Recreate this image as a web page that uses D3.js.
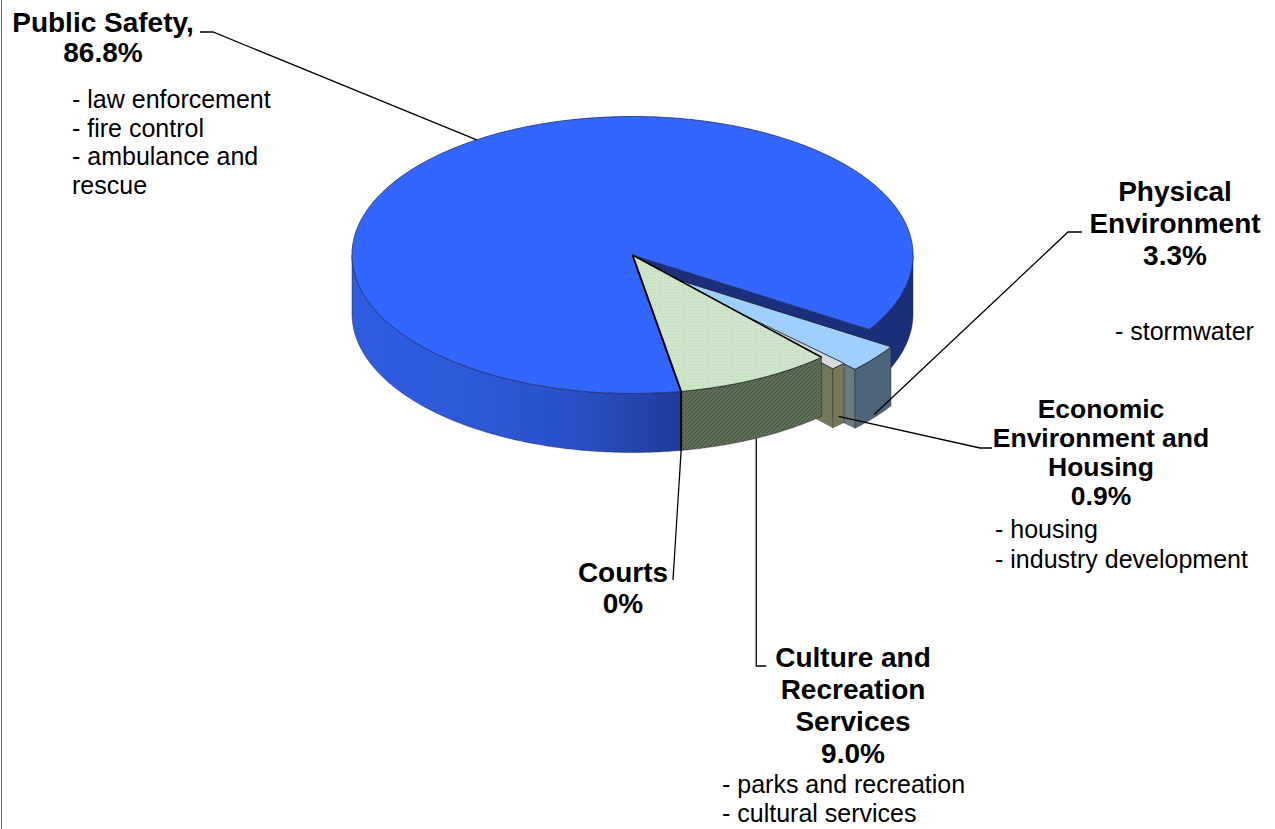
<!DOCTYPE html>
<html>
<head>
<meta charset="utf-8">
<script src="https://cdn.jsdelivr.net/npm/d3@7"></script>
<style>
  body { margin: 0; background: #fff; }
  svg { display: block; }
</style>
</head>
<body>
<svg id="chart" width="1275" height="829"></svg>
<script>
// ---- data ----
const categories = ["Physical Environment", "Economic Environment and Housing", "Culture and Recreation Services", "Courts", "Public Safety"];
const shares = [3.3, 0.9, 9.0, 0, 86.8];
const nameLines = [["Physical", "Environment"], ["Economic", "Environment and", "Housing"], ["Culture and", "Recreation", "Services"], ["Courts"], ["Public Safety,"]];
const detailLines = [["- stormwater"], ["- housing", "- industry development"], ["- parks and recreation", "- cultural services"], [], ["- law enforcement", "- fire control", "- ambulance and", "rescue"]];

// ---- geometry & styles ----
const cx = 632.5, cy = 255, rx = 280.5, ry = 138.5, depth = 59;
const startDeg = 32.5;                 // screen angle where the first slice begins
const explode = [28, 16, 0, 0, 0];
const endFaceFrom = [0.7, 0.7, 1, 1, 0]; // radial end faces drawn from this fraction of the radius outward
const topFill = ["#9fcfff", "#d3dbde", "url(#cultTop)", "#cfe8cc", "#3366ff"];
const wallFill = ["#4e6479", "#77775a", "url(#cultWall)", "#5f7058", "url(#psWall)"];
const endFill = ["#6d797e", "#77775a", null, null, "#1b2f7c"];

const svg = d3.select("#chart");
const defs = svg.append("defs");

const g1 = defs.append("linearGradient").attr("id", "psWall")
  .attr("gradientUnits", "userSpaceOnUse").attr("x1", 352).attr("x2", 913).attr("y1", 0).attr("y2", 0);
[[0, "#2f5ce2"], [0.2, "#2d59da"], [0.4, "#2950c6"], [0.58, "#1f3d9a"], [0.85, "#1c3283"], [1, "#1a2d78"]]
  .forEach(([o, c]) => g1.append("stop").attr("offset", o).attr("stop-color", c));

const pw = defs.append("pattern").attr("id", "cultWall").attr("patternUnits", "userSpaceOnUse")
  .attr("width", 4).attr("height", 4);
pw.append("rect").attr("width", 4).attr("height", 4).attr("fill", "#5e6f57");
pw.append("path").attr("d", "M-1,1 L1,-1 M0,4 L4,0 M3,5 L5,3").attr("stroke", "#46553f").attr("stroke-width", 1);

const pt = defs.append("pattern").attr("id", "cultTop").attr("patternUnits", "userSpaceOnUse")
  .attr("width", 3).attr("height", 3);
pt.append("rect").attr("width", 3).attr("height", 3).attr("fill", "#cde6ca");
pt.append("rect").attr("x", 1).attr("y", 1).attr("width", 1).attr("height", 1).attr("fill", "#bcd7b8");

// ---- layout from d3.pie ----
const rad = Math.PI / 180;
const pie = d3.pie().sort(null).value(d => d)
  .startAngle((startDeg + 90) * rad).endAngle((startDeg + 450) * rad);
const arcs = pie(shares);
const scr = a => a - Math.PI / 2;      // pie angle -> screen angle (0 = right, clockwise)

function offsetOf(i) {
  const d = arcs[i];
  const b = scr((d.startAngle + d.endAngle) / 2);
  return [explode[i] * Math.cos(b), explode[i] * Math.sin(b)];
}
function rim(a, off, dz, f) {
  const k = f === undefined ? 1 : f;
  return [cx + off[0] + k * rx * Math.cos(a), cy + off[1] + k * ry * Math.sin(a) + (dz || 0)];
}
function arcPts(a0, a1, off, dz) {
  const n = Math.max(2, Math.ceil(Math.abs(a1 - a0) / 0.01));
  return d3.range(n + 1).map(k => rim(a0 + (a1 - a0) * k / n, off, dz));
}
const line = d3.line();

function frontRanges(s, e) {
  const out = [];
  for (let k = -2; k <= 2; k++) {
    const lo = Math.max(s, 2 * Math.PI * k), hi = Math.min(e, 2 * Math.PI * k + Math.PI);
    if (hi > lo) out.push([lo, hi]);
  }
  return out;
}

const pieG = svg.append("g");
// paint back-to-front: the big slice first, then the small ones toward the viewer
const order = [4, 0, 1, 2];
order.forEach(i => {
  const d = arcs[i];
  if (d.value === 0) return;
  const s = scr(d.startAngle), e = scr(d.endAngle);
  const off = offsetOf(i);
  const c = [cx + off[0], cy + off[1]];
  const g = pieG.append("g");

  // radial face at the clockwise end of the slice
  if (endFill[i]) {
    const r = rim(e, off);
    const inner = rim(e, off, 0, endFaceFrom[i]);
    g.append("path")
      .attr("d", line([inner, r, [r[0], r[1] + depth], [inner[0], inner[1] + depth]]) + "Z")
      .attr("fill", endFill[i]).attr("stroke", "#2a2a2a").attr("stroke-width", 0.5).attr("stroke-opacity", 0.5);
  }
  // outer walls
  frontRanges(s, e).forEach(([a0, a1]) => {
    const pts = arcPts(a0, a1, off, 0).concat(arcPts(a1, a0, off, depth));
    g.append("path").attr("d", line(pts) + "Z")
      .attr("fill", wallFill[i]).attr("stroke", "#1a1a2a").attr("stroke-width", 0.7).attr("stroke-opacity", 0.6);
  });
  // top face
  g.append("path").attr("d", line([c].concat(arcPts(s, e, off, 0))) + "Z")
    .attr("fill", topFill[i])
    .attr("stroke", i === 4 ? "#1d2c66" : "#1a1a1a")
    .attr("stroke-width", 1)
    .attr("stroke-opacity", 0.8);
});

// heavy edge along the culture / public safety boundary
{
  const d = arcs[2];
  const e = scr(d.endAngle), s = scr(d.startAngle);
  const r = rim(e, [0, 0]);
  pieG.append("path").attr("d", line([[cx, cy], r, [r[0], r[1] + depth]]))
    .attr("fill", "none").attr("stroke", "#000").attr("stroke-width", 2);
  pieG.append("path").attr("d", line([[cx, cy], rim(s, [0, 0])]))
    .attr("fill", "none").attr("stroke", "#000").attr("stroke-width", 1.6);
}

// ---- leader lines ----
const bis = i => scr((arcs[i].startAngle + arcs[i].endAngle) / 2);
const leaders = [
  [rim(bis(0), offsetOf(0), depth * 0.95), [1068, 232], [1082, 232]],
  [rim(bis(1), offsetOf(1), depth * 0.85), [980, 448], [992, 448]],
  (() => { const p = rim(bis(2), [0, 0], depth); return [p, [p[0], 666], [p[0] + 10, 666]]; })(),
  [rim(scr(arcs[3].startAngle), [0, 0], depth), [673, 580]],
  [rim(bis(4), [0, 0], 0), [213, 32], [200, 32]]
];
svg.append("g").selectAll("path").data(leaders).join("path")
  .attr("d", d => line(d)).attr("fill", "none").attr("stroke", "#000").attr("stroke-width", 1.3);

// ---- labels ----
const fmt = v => v === 0 ? "0%" : v.toFixed(1) + "%";
const titlePos = [
  { x: 1175, y: 201, dy: 32, size: 28 },
  { x: 1101, y: 418, dy: 29, size: 26.5 },
  { x: 853, y: 667, dy: 32, size: 28 },
  { x: 623, y: 582, dy: 31, size: 28 },
  { x: 103, y: 32, dy: 30, size: 28 }
];
const detailPos = [
  { x: 1115, y: 340, dy: 29 },
  { x: 995, y: 538, dy: 30 },
  { x: 722, y: 793, dy: 29 },
  { x: 0, y: 0, dy: 0 },
  { x: 72, y: 108, dy: 28.5 }
];
const labG = svg.append("g").attr("font-family", "'Liberation Sans', Arial, sans-serif").attr("fill", "#000");
shares.forEach((v, i) => {
  const tp = titlePos[i];
  const lines = nameLines[i].concat([fmt(v)]);
  labG.append("text").attr("text-anchor", "middle").attr("font-weight", "bold")
    .attr("font-size", tp.size)
    .selectAll("tspan").data(lines).join("tspan")
    .attr("x", tp.x).attr("y", (d, k) => tp.y + k * tp.dy).text(d => d);
  const dp = detailPos[i];
  labG.append("text").attr("font-size", 25)
    .selectAll("tspan").data(detailLines[i]).join("tspan")
    .attr("x", dp.x).attr("y", (d, k) => dp.y + k * dp.dy).text(d => d);
});

// chart-area edge on the left
svg.append("line").attr("x1", 1.5).attr("x2", 1.5).attr("y1", 0).attr("y2", 829)
  .attr("stroke", "#6a6a6a").attr("stroke-width", 1);
</script>
</body>
</html>
